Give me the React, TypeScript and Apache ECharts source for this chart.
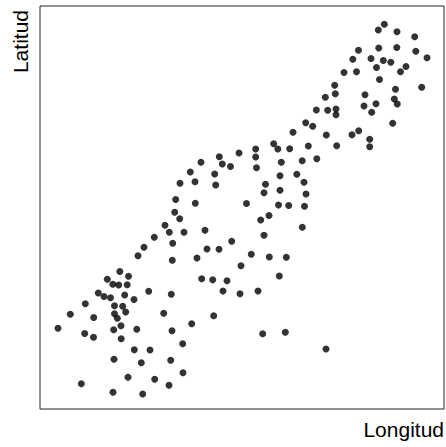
import React, { useEffect, useRef } from "react";
import * as echarts from "echarts";

// Longitude / latitude of each event, in plot units (0–404 across the frame).
const longitud: number[] = [
  338.3, 344.3, 357, 374.7, 338.7, 356.8, 318.5, 375.8, 312.8, 331,
  343.3, 350.8, 387, 336.5, 366, 360.5, 304, 316.5, 339.5, 381.7,
  294.7, 295.3, 285.3, 325, 355.5, 354.3, 357.3, 324, 336, 331.7,
  276.3, 287.7, 296, 296, 265.7, 272.7, 352.7, 253, 286.3, 312,
  318.7, 329.7, 329.7, 296.7, 233.7, 237.8, 249.7, 268.3, 215.7, 215.7,
  199, 241.3, 262.2, 276.8, 216.5, 240, 256.8, 264, 225.5, 224,
  240, 266, 206.5, 238.5, 248.7, 264.5, 220.7, 229, 262.3, 224,
  211.3, 229.3, 246.3, 201, 239.3, 200, 218, 222.7, 245.3, 286,
  179.3, 182.3, 190.5, 161, 150.3, 174.7, 140, 155, 175.7, 135.7,
  155.3, 134.7, 139.7, 125, 129.3, 144, 165, 114.3, 132.7, 191.7,
  104, 167, 179, 98, 157, 132.3, 79.8, 88.5, 67.3, 72.8,
  78.7, 87.2, 161.7, 172.7, 187, 183, 108.7, 131.3, 58.3, 64,
  70.5, 84.7, 94, 45.3, 74.5, 82.7, 30.3, 53.7, 74.5, 77.3,
  85.7, 123.7, 173.7, 18, 44.7, 53.5, 73.7, 81, 81.2, 96.8,
  132, 151.7, 142.7, 94.3, 110, 74, 101.3, 130.7, 88, 114.7,
  143, 41.3, 73, 102.7, 129,
];

const latitud: number[] = [
  379, 384.7, 377.3, 372.3, 361, 361.5, 358.7, 357.8, 349.8, 350.5,
  348.5, 346.8, 351.2, 341.5, 342.5, 337.3, 336.5, 337.3, 329.5, 321.8,
  323.7, 315.3, 311.7, 314.3, 319.7, 310, 305, 303, 305.3, 296.7,
  299, 298.7, 300, 294.3, 286.3, 282.7, 285.7, 276.7, 274, 274.3,
  278.3, 269.7, 262.3, 263.3, 265.3, 260, 260.2, 263, 260, 252,
  256, 246.7, 248.3, 250.2, 241.3, 233.2, 234.8, 226.7, 224.8, 216.3,
  218.7, 215, 205.5, 204, 203.5, 202.8, 189, 193.5, 181.7, 173.7,
  154.7, 152, 151.7, 143.3, 133, 115.3, 118, 75.3, 76.7, 60,
  252.3, 245, 242.5, 246.7, 237, 235, 225.7, 227.3, 224, 209.5,
  205.8, 196.7, 190.3, 183.7, 176.7, 176.7, 178.7, 171.7, 165.7, 167.7,
  161.7, 160, 159.7, 153.3, 151, 148.7, 137.5, 132.7, 129.8, 124.8,
  124, 124.2, 130.3, 129.3, 128.3, 118, 117.7, 114.7, 116, 112.5,
  111.3, 114, 109.5, 105.2, 103.3, 102.7, 94.7, 91.5, 95.2, 90.8,
  97, 95.7, 93.3, 80.7, 75.5, 71.8, 79.3, 83.3, 70.2, 79.8,
  78.3, 85.3, 65.3, 59.3, 59, 49.7, 46.3, 48.7, 31.7, 29.7,
  36.3, 25.3, 16.7, 15, 23.7,
];

const xLabel = "Longitud";
const yLabel = "Latitud";

export default function App() {
  const ref = useRef<HTMLDivElement>(null);

  useEffect(() => {
    if (!ref.current) return;
    const chart = echarts.init(ref.current, null, { renderer: "svg" });
    const points = longitud.map((x, i) => [x, latitud[i]]);
    const font = "'Liberation Sans', Arial, Helvetica, sans-serif";

    chart.setOption({
      animation: false,
      backgroundColor: "#ffffff",
      grid: {
        left: 40,
        top: 6,
        width: 404,
        height: 403,
        show: true,
        borderColor: "#222222",
        borderWidth: 1,
        backgroundColor: "transparent",
      },
      xAxis: {
        type: "value",
        min: 0,
        max: 404,
        show: false,
      },
      yAxis: {
        type: "value",
        min: 0,
        max: 403,
        show: false,
      },
      series: [
        {
          type: "scatter",
          data: points,
          symbol: "circle",
          symbolSize: 7,
          itemStyle: { color: "#000000" },
          silent: true,
        },
      ],
      graphic: [
        {
          type: "text",
          x: 444,
          y: 429,
          style: {
            text: xLabel,
            font: `21px ${font}`,
            fill: "#000000",
            align: "right",
            verticalAlign: "middle",
          },
        },
        {
          type: "text",
          x: 20,
          y: 10,
          rotation: Math.PI / 2,
          style: {
            text: yLabel,
            font: `21px ${font}`,
            fill: "#000000",
            align: "right",
            verticalAlign: "middle",
          },
        },
      ],
    });

    return () => chart.dispose();
  }, []);

  return (
    <div
      ref={ref}
      style={{ position: "fixed", left: 0, top: 0, width: 446, height: 447 }}
    />
  );
}
